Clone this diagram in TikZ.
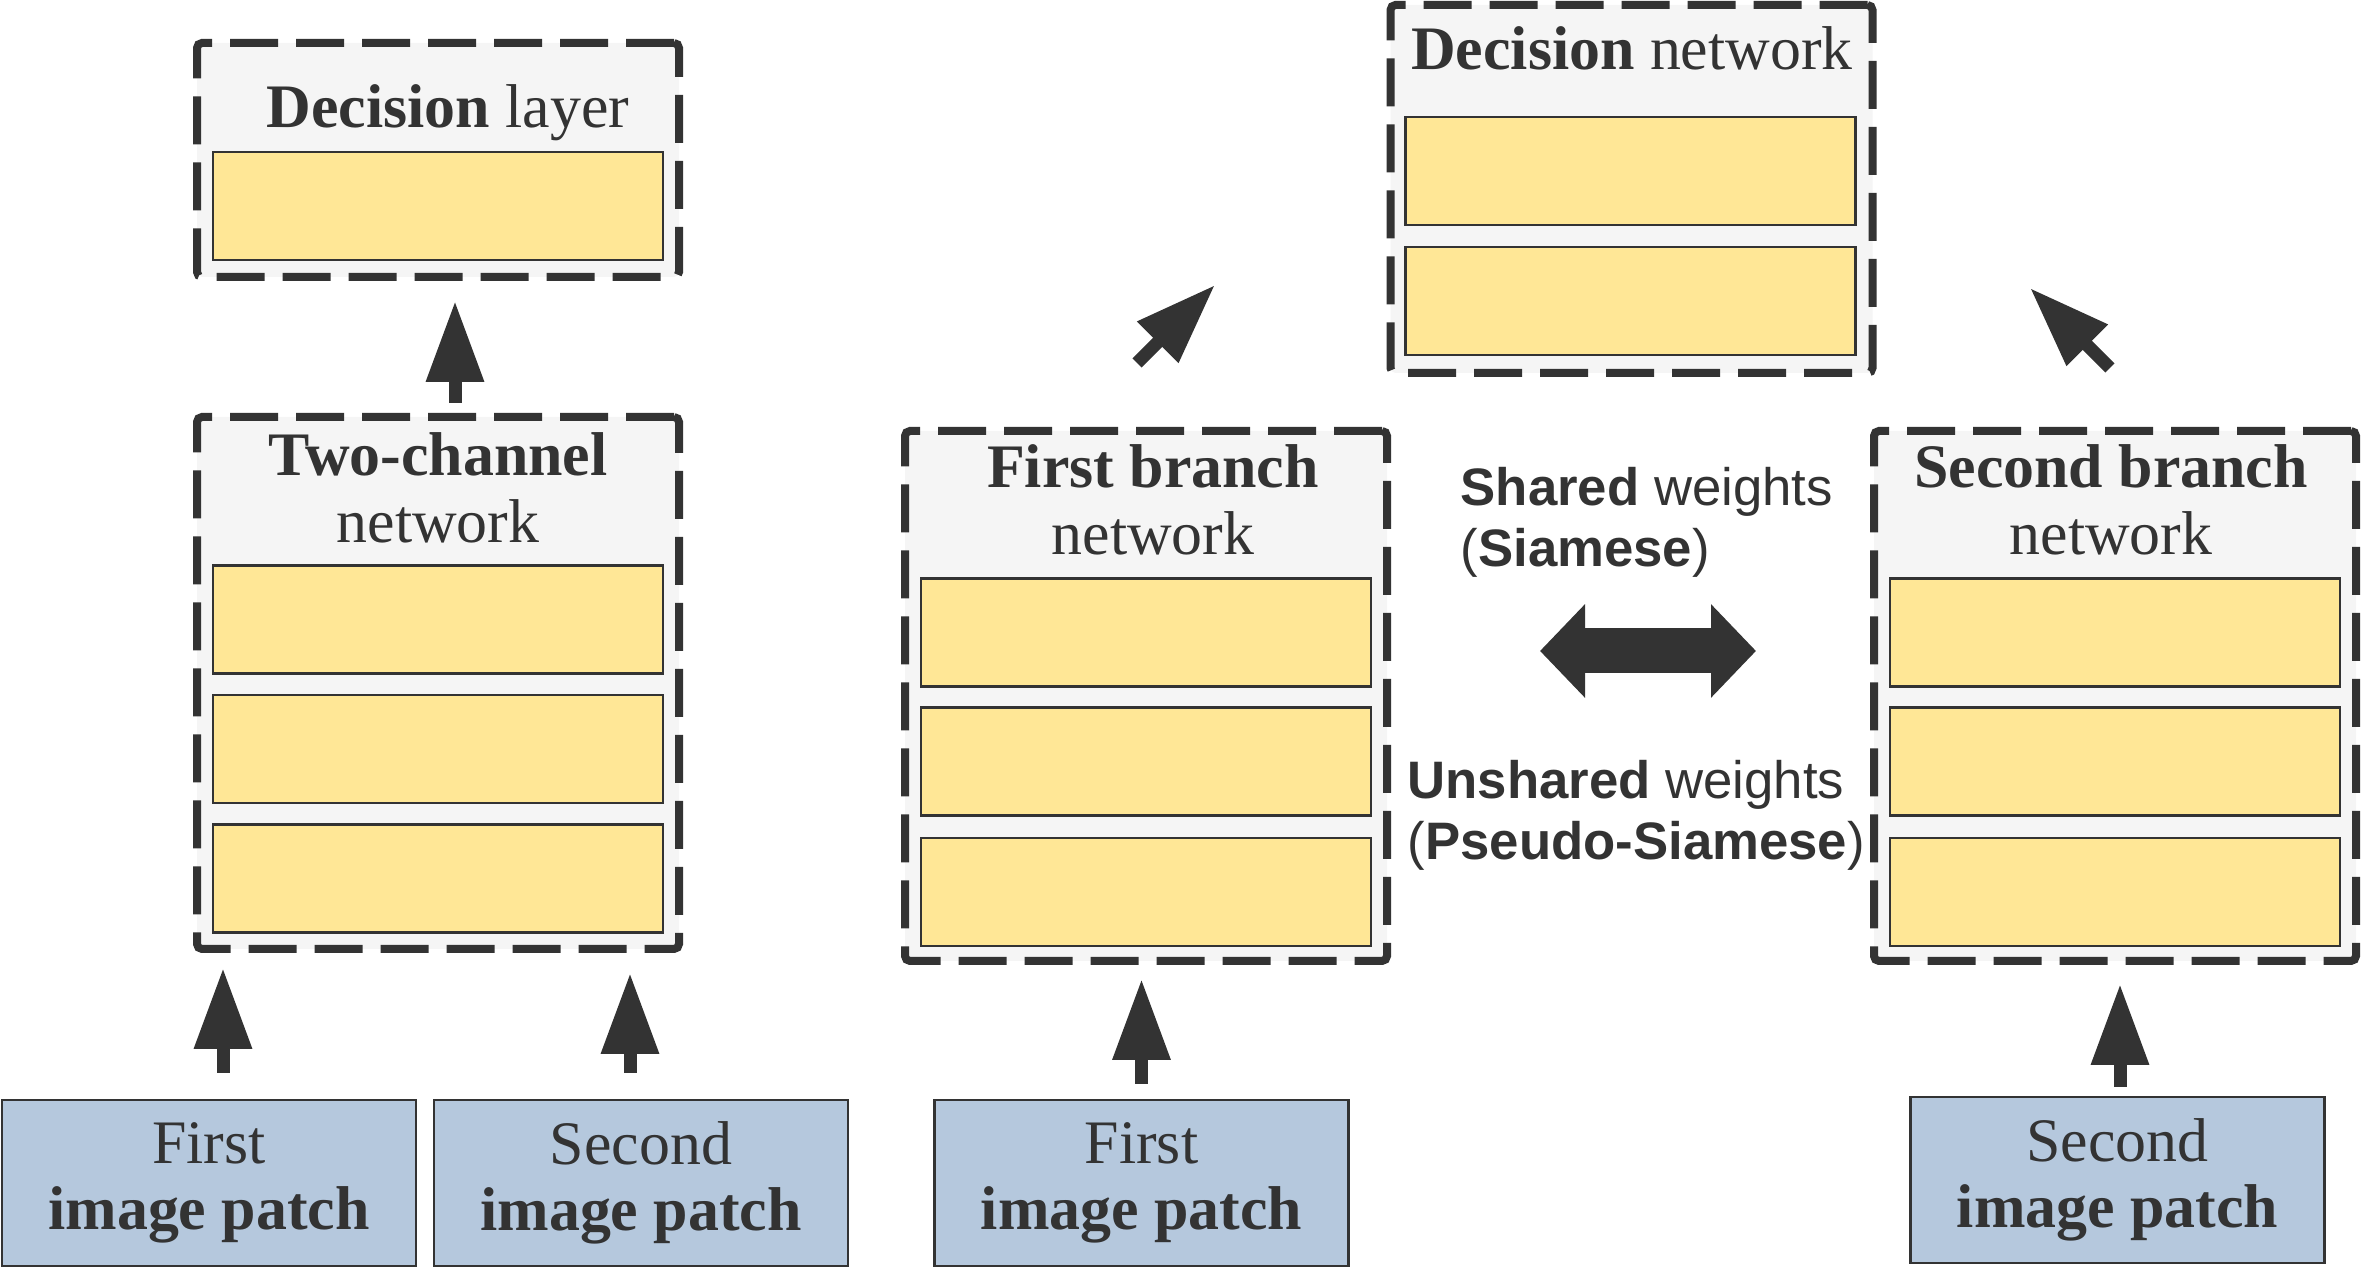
\documentclass[tikz,border=0pt]{standalone}
\usepackage{xcolor}
\usepackage{fontspec}
\setmainfont{Liberation Serif}
\setsansfont{Liberation Sans}
\usepackage{tikz}
\usetikzlibrary{arrows.meta}
\definecolor{inkdark}{RGB}{51,51,51}
\definecolor{netgray}{RGB}{245,245,245}
\definecolor{layeryellow}{RGB}{255,231,150}
\definecolor{patchblue}{RGB}{181,200,221}
\tikzset{
  netbox/.style={draw=inkdark, line width=0.08cm, dash pattern=on 0.48cm off 0.18cm,
    rounded corners=0.05cm, fill=netgray, inner sep=0pt, minimum width=4.82cm},
  layer/.style={draw=inkdark, line width=0.6pt, fill=layeryellow, inner sep=0pt,
    minimum width=4.5cm, minimum height=1.08cm},
  patch/.style={draw=inkdark, line width=0.6pt, fill=patchblue, inner sep=0pt,
    minimum width=4.14cm, minimum height=1.66cm, align=center, text=inkdark,
    font=\fontsize{17.6}{18.8}\selectfont},
  ttl/.style={anchor=base, align=center, inner sep=0pt, text=inkdark,
    font=\fontsize{17.6}{19.3}\selectfont},
  wlabel/.style={anchor=base west, align=left, inner sep=0pt, text=inkdark,
    font=\sffamily\fontsize{15}{17.6}\selectfont},
  flow/.style={-{Triangle[length=0.81cm,width=0.55cm]}, line width=0.13cm, draw=inkdark},
  dflow/.style={{Triangle[length=0.45cm,width=0.91cm]}-{Triangle[length=0.45cm,width=0.91cm]},
    line width=0.45cm, draw=inkdark},
}
\begin{document}
\begin{tikzpicture}
  \useasboundingbox (0,0) rectangle (23.63,12.71);

  \node[netbox, minimum height=2.34cm] (dl) at (4.38,11.11) {};
  \node[layer] (dl1) at (4.38,10.65) {};
  \node[ttl] (dlt) at (4.48,11.43) {\textbf{Decision} layer};

  \node[netbox, minimum height=5.32cm] (tc) at (4.38,5.88) {};
  \node[layer] (tc1) at (4.38,6.515) {};
  \node[layer] (tc2) at (4.38,5.22) {};
  \node[layer] (tc3) at (4.38,3.925) {};
  \node[ttl] (tct) at (4.38,7.28) {\textbf{Two-channel}\\network};

  \node[netbox, minimum height=5.30cm] (fb) at (11.46,5.75) {};
  \node[layer] (fb1) at (11.46,6.385) {};
  \node[layer] (fb2) at (11.46,5.095) {};
  \node[layer] (fb3) at (11.46,3.79) {};
  \node[ttl] (fbt) at (11.53,7.16) {\textbf{First branch}\\network};

  \node[netbox, minimum height=5.30cm] (sb) at (21.15,5.75) {};
  \node[layer] (sb1) at (21.15,6.385) {};
  \node[layer] (sb2) at (21.15,5.095) {};
  \node[layer] (sb3) at (21.15,3.79) {};
  \node[ttl] (sbt) at (21.11,7.16) {\textbf{Second branch}\\network};

  \node[netbox, minimum height=3.68cm] (dn) at (16.315,10.82) {};
  \node[layer] (dn1) at (16.305,11.0) {};
  \node[layer] (dn2) at (16.305,9.70) {};
  \node[ttl] (dnt) at (16.32,12.01) {\textbf{Decision} network};

  \node[patch] (p1) at (2.09,0.88) {First\\\textbf{image patch}};
  \node[patch] (p2) at (6.41,0.88) {Second\\\textbf{image patch}};
  \node[patch] (p3) at (11.415,0.88) {First\\\textbf{image patch}};
  \node[patch] (p4) at (21.175,0.91) {Second\\\textbf{image patch}};

  \node[wlabel] (shw) at (14.60,7.04) {\textbf{Shared} weights\\(\textbf{Siamese})};
  \node[wlabel] (usw) at (14.07,4.11) {\textbf{Unshared} weights\\(\textbf{Pseudo-Siamese})};

  \draw[flow, shorten <=0.26cm, shorten >=0.15cm] ([xshift=0.14cm]p1.north) -- ([xshift=0.14cm]p1.north |- tc.south);
  \draw[flow, shorten <=0.26cm, shorten >=0.20cm] ([xshift=-0.11cm]p2.north) -- ([xshift=-0.11cm]p2.north |- tc.south);
  \draw[flow, shorten <=0.10cm, shorten >=0.20cm] ([xshift=0.17cm]tc.north) -- ([xshift=0.17cm]tc.north |- dl.south);
  \draw[flow, shorten <=0.15cm, shorten >=0.14cm] (p3.north) -- (p3.north |- fb.south);
  \draw[flow, shorten <=0.09cm, shorten >=0.19cm] ([xshift=0.025cm]p4.north) -- ([xshift=0.025cm]p4.north |- sb.south);

  \draw[flow] ([shift={(-0.09,0.64)}]fb.north) -- ([shift={(0.69,1.42)}]fb.north);
  \draw[flow] ([shift={(-0.05,0.59)}]sb.north) -- ([shift={(-0.85,1.39)}]sb.north);

  \draw[dflow] ([shift={(1.49,0.45)}]fb.east) -- ([shift={(-1.14,0.45)}]sb.west);

\end{tikzpicture}
\end{document}
